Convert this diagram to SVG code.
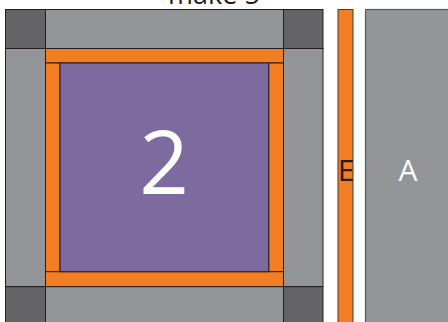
<svg xmlns="http://www.w3.org/2000/svg" width="448" height="322" viewBox="0 0 448 322">
<style>
.g{fill:#939598;stroke:#231f20;stroke-width:1}
.d{fill:#646466;stroke:#231f20;stroke-width:1}
.o{fill:#f37d22;stroke:#231f20;stroke-width:1}
.p{fill:#7d6a9e;stroke:#231f20;stroke-width:1}
text{font-family:"Open Sans","Liberation Sans",sans-serif}
</style>
<rect width="448" height="322" fill="#ffffff"/>
<text x="214" y="4" font-size="27" text-anchor="middle" fill="#231f20">make 5</text>
<g id="block">
<rect class="d" x="5.5" y="9.5" width="40" height="39"/>
<rect class="g" x="45.5" y="9.5" width="238" height="39"/>
<rect class="d" x="283.5" y="9.5" width="39.5" height="39"/>
<rect class="g" x="5.5" y="48.5" width="40" height="238"/>
<rect class="g" x="283.5" y="48.5" width="39.5" height="238"/>
<rect class="o" x="45.5" y="48.5" width="238" height="14.5"/>
<rect class="o" x="45.5" y="63" width="14.5" height="209"/>
<rect class="o" x="268.7" y="63" width="14.8" height="209"/>
<rect class="o" x="45.5" y="271.7" width="238" height="15"/>
<rect class="p" x="60" y="63" width="208.7" height="208.7"/>
<rect class="d" x="5.5" y="286.7" width="40" height="40"/>
<rect class="g" x="45.5" y="286.7" width="238" height="40"/>
<rect class="d" x="283.5" y="286.7" width="39.5" height="40"/>
<text x="164" y="194" font-size="87" text-anchor="middle" fill="#ffffff">2</text>
</g>
<g id="E">
<rect x="338" y="9.5" width="15" height="320" fill="#f37d22" stroke="#3a3a3c" stroke-width="1"/>
<text x="346" y="181" font-size="30" text-anchor="middle" fill="#231f20">E</text>
</g>
<g id="A">
<rect x="365.5" y="9.5" width="90" height="320" fill="#939598" stroke="#58595b" stroke-width="1.2"/>
<text x="408" y="181" font-size="30" text-anchor="middle" fill="#ffffff">A</text>
</g>
<g id="connectors"/>
</svg>
